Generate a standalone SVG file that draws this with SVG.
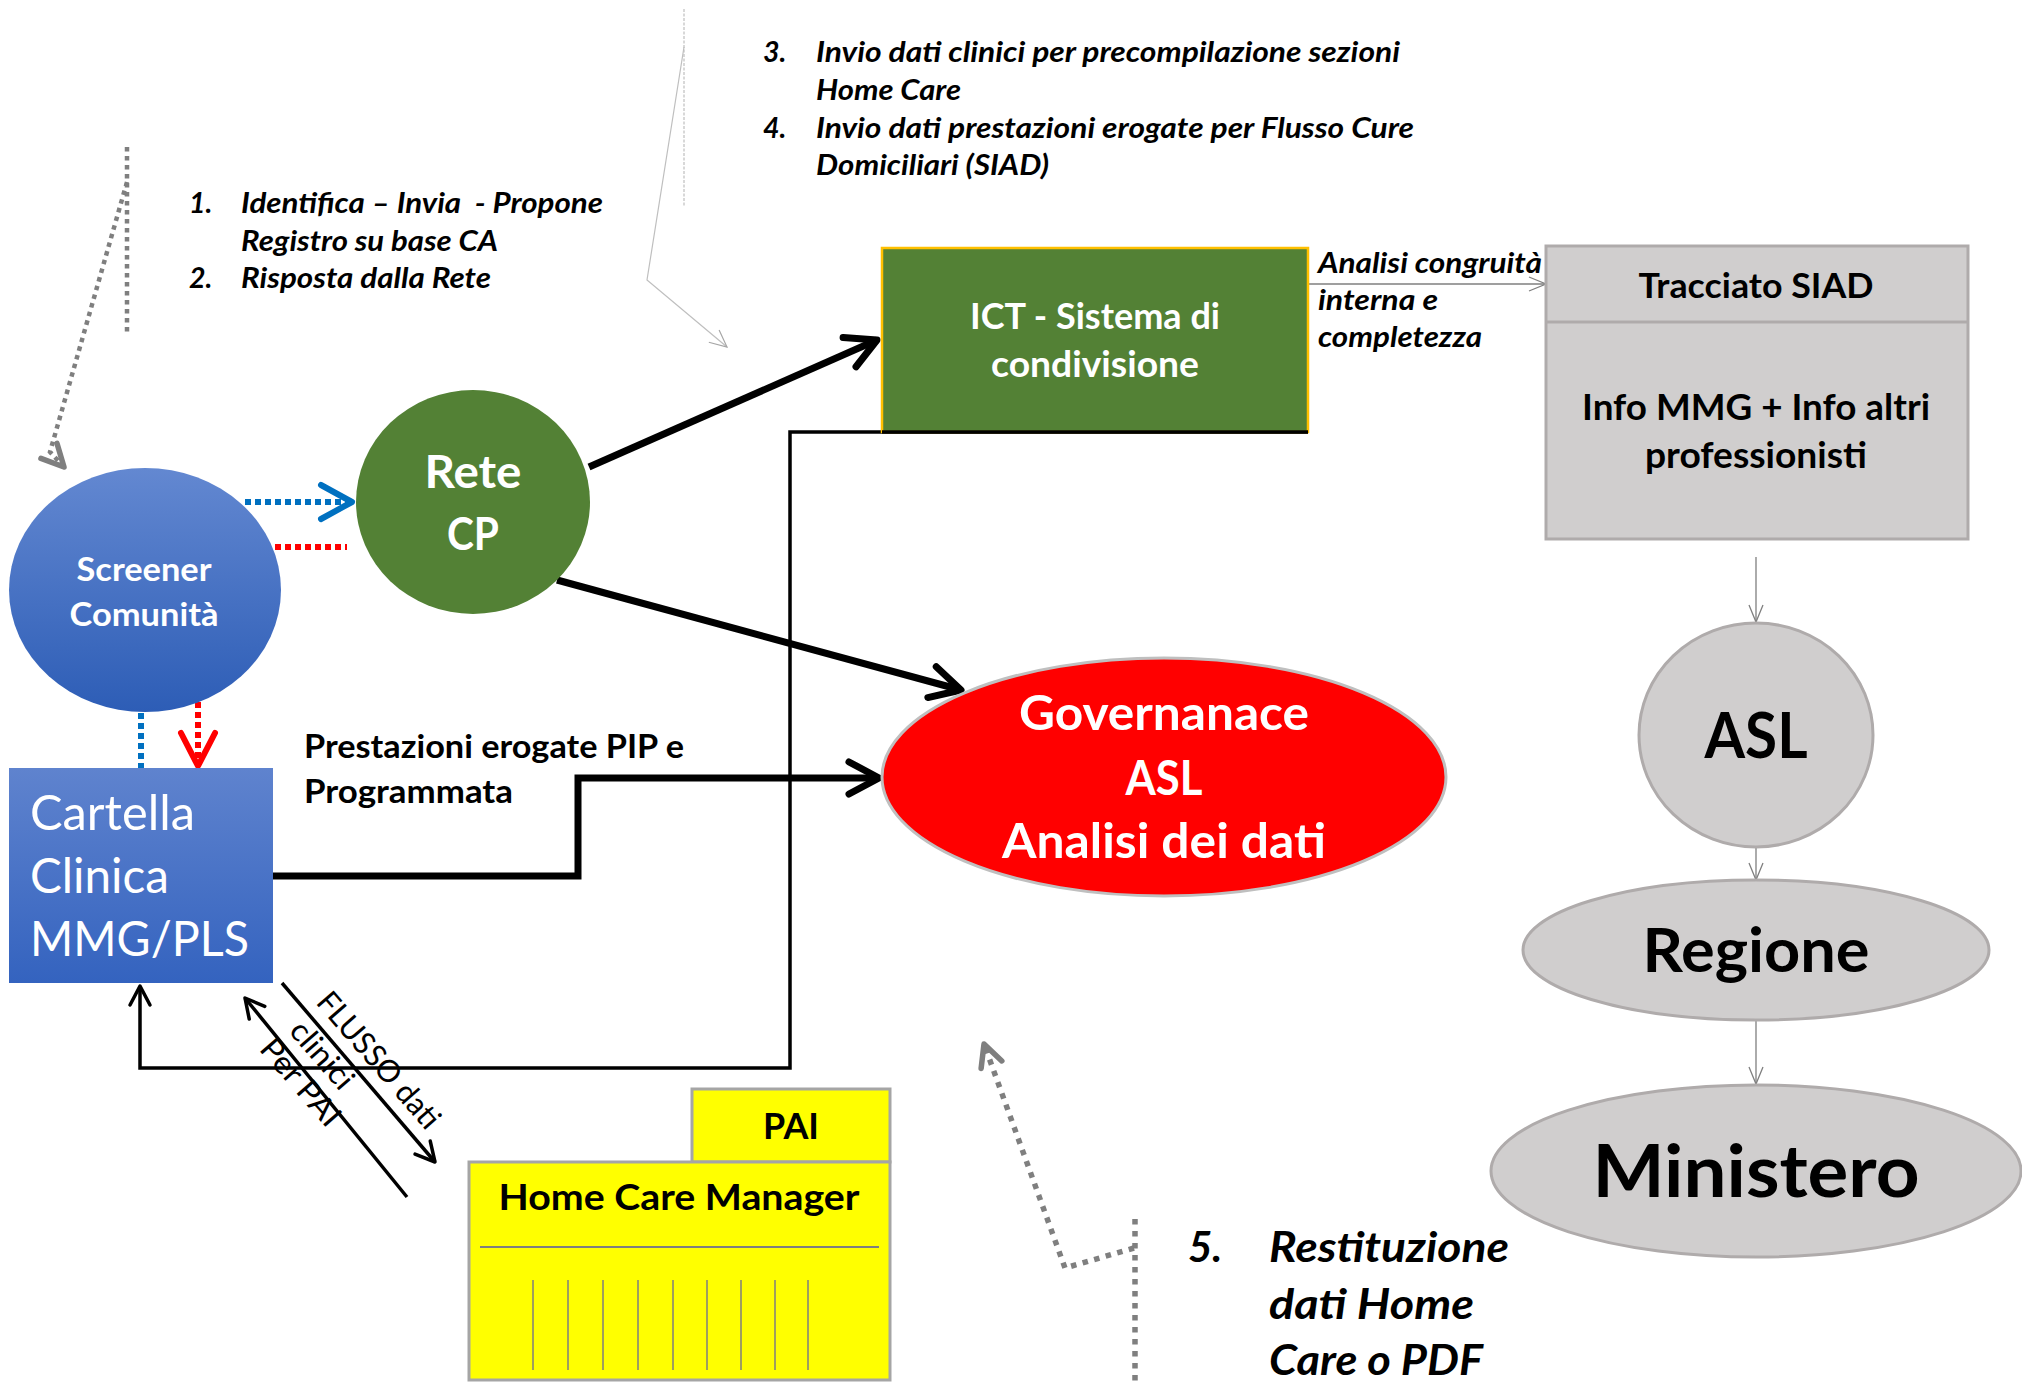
<svg xmlns="http://www.w3.org/2000/svg" width="2022" height="1382" viewBox="0 0 2022 1382">
  <defs>
    <style>
      text { font-family: Lato, "Liberation Sans", Arial, sans-serif; }
      .note { font-weight: bold; font-style: italic; fill: #000; font-size: 28.5px; white-space: pre; }
      .note5 { font-weight: bold; font-style: italic; fill: #000; font-size: 42px; }
      .wt { fill: #fff; font-weight: bold; text-anchor: middle; }
      .bk { fill: #000; font-weight: bold; text-anchor: middle; }
      .flow { fill: #000; font-size: 31px; text-anchor: middle; }
      .grey { fill: #D0CECE; stroke: #AFABAB; stroke-width: 3; }
      .thick { fill: none; stroke: #000; stroke-width: 7; stroke-linejoin: miter; }
      .thin { fill: none; stroke: #000; stroke-width: 3.5; }
      .hair { fill: none; stroke: #7F7F7F; stroke-width: 1.3; }
      .dotgrey { fill: none; stroke: #7F7F7F; stroke-width: 4.5; stroke-dasharray: 4.5 4.5; }
      .dotgrey2 { fill: none; stroke: #7F7F7F; stroke-width: 5.5; stroke-dasharray: 5.5 6.5; }
      .dotblue { fill: none; stroke: #0070C0; stroke-width: 6; stroke-dasharray: 6 4; }
      .dotred { fill: none; stroke: #FF0000; stroke-width: 6; stroke-dasharray: 6 4; }
      .faint { fill: none; stroke: #BFBFBF; stroke-width: 1.2; }
    </style>
    <linearGradient id="blueGrad" x1="0" y1="0" x2="0" y2="1">
      <stop offset="0" stop-color="#6388D1"/>
      <stop offset="1" stop-color="#2D5DB6"/>
    </linearGradient>
    <linearGradient id="blueGradBox" x1="0" y1="0" x2="0" y2="1">
      <stop offset="0" stop-color="#5F83CE"/>
      <stop offset="1" stop-color="#3463BF"/>
    </linearGradient>
    <marker id="ahBlack" markerUnits="userSpaceOnUse" markerWidth="1" markerHeight="1" refX="0" refY="0" orient="auto" overflow="visible">
      <path d="M-30,-16 L0,0 L-30,16" fill="none" stroke="#000" stroke-width="7" stroke-linecap="round" stroke-linejoin="round"/>
    </marker>
    <marker id="ahSmall" markerUnits="userSpaceOnUse" markerWidth="1" markerHeight="1" refX="0" refY="0" orient="auto" overflow="visible">
      <path d="M-19,-10 L0,0 L-19,10" fill="none" stroke="#000" stroke-width="3.5" stroke-linecap="round" stroke-linejoin="round"/>
    </marker>
    <marker id="ahBlue" markerUnits="userSpaceOnUse" markerWidth="1" markerHeight="1" refX="0" refY="0" orient="auto" overflow="visible">
      <path d="M-31,-17 L0,0 L-31,17" fill="none" stroke="#0070C0" stroke-width="6" stroke-linecap="round" stroke-linejoin="round"/>
    </marker>
    <marker id="ahRed" markerUnits="userSpaceOnUse" markerWidth="1" markerHeight="1" refX="0" refY="0" orient="auto" overflow="visible">
      <path d="M-33,-17 L0,0 L-33,17" fill="none" stroke="#FF0000" stroke-width="6" stroke-linecap="round" stroke-linejoin="round"/>
    </marker>
    <marker id="ahGrey" markerUnits="userSpaceOnUse" markerWidth="1" markerHeight="1" refX="0" refY="0" orient="auto" overflow="visible">
      <path d="M-22,-11 L0,0 L-22,11" fill="none" stroke="#7F7F7F" stroke-width="5.5" stroke-linecap="round" stroke-linejoin="round"/>
    </marker>
    <marker id="ahHair" markerUnits="userSpaceOnUse" markerWidth="1" markerHeight="1" refX="0" refY="0" orient="auto" overflow="visible">
      <path d="M-17,-7 L0,0 L-17,7" fill="none" stroke="#7F7F7F" stroke-width="1.3"/>
    </marker>
    <marker id="ahFaint" markerUnits="userSpaceOnUse" markerWidth="1" markerHeight="1" refX="0" refY="0" orient="auto" overflow="visible">
      <path d="M-17,-8 L0,0 L-17,8" fill="none" stroke="#A6A6A6" stroke-width="1.2"/>
    </marker>
  </defs>

  <rect width="2022" height="1382" fill="#fff"/>

  <!-- free-standing notes -->
  <g id="notes-1-2">
    <text class="note" x="189" y="213">1.</text>
    <text class="note" x="241" y="213" textLength="362" lengthAdjust="spacingAndGlyphs">Identifica – Invia  - Propone</text>
    <text class="note" x="241" y="251" textLength="257" lengthAdjust="spacingAndGlyphs">Registro su base CA</text>
    <text class="note" x="189" y="288">2.</text>
    <text class="note" x="241" y="288" textLength="250" lengthAdjust="spacingAndGlyphs">Risposta dalla Rete</text>
  </g>
  <g id="notes-3-4">
    <text class="note" x="763" y="62">3.</text>
    <text class="note" x="816" y="62" textLength="584" lengthAdjust="spacingAndGlyphs">Invio dati clinici per precompilazione sezioni</text>
    <text class="note" x="816" y="100" textLength="145" lengthAdjust="spacingAndGlyphs">Home Care</text>
    <text class="note" x="763" y="138">4.</text>
    <text class="note" x="816" y="138" textLength="598" lengthAdjust="spacingAndGlyphs">Invio dati prestazioni erogate per Flusso Cure</text>
    <text class="note" x="816" y="175" textLength="233" lengthAdjust="spacingAndGlyphs">Domiciliari (SIAD)</text>
  </g>
  <g id="note-analisi">
    <text class="note" x="1318" y="273" font-size="29" textLength="224" lengthAdjust="spacingAndGlyphs">Analisi congruità</text>
    <text class="note" x="1318" y="310" font-size="29" textLength="120" lengthAdjust="spacingAndGlyphs">interna e</text>
    <text class="note" x="1318" y="347" font-size="29" textLength="164" lengthAdjust="spacingAndGlyphs">completezza</text>
  </g>
  <g id="note-5">
    <text class="note5" x="1188" y="1262">5.</text>
    <text class="note5" x="1269" y="1262" textLength="240" lengthAdjust="spacingAndGlyphs">Restituzione</text>
    <text class="note5" x="1269" y="1319" textLength="205" lengthAdjust="spacingAndGlyphs">dati Home</text>
    <text class="note5" x="1269" y="1375" textLength="214" lengthAdjust="spacingAndGlyphs">Care o PDF</text>
  </g>

  <!-- connectors -->
  <g id="connectors">
    <!-- faint pointer towards the ICT box -->
    <line class="faint" x1="684" y1="9" x2="684" y2="207" stroke-dasharray="3 1.5"/>
    <path class="faint" d="M684,47 L647,280 L727,347" marker-end="url(#ahFaint)"/>
    <!-- grey dotted pointers -->
    <line class="dotgrey" x1="127" y1="147" x2="127" y2="333"/>
    <path class="dotgrey" d="M127,182 L50,452 L64,467" marker-end="url(#ahGrey)"/>
    <line class="dotgrey2" x1="1135" y1="1219" x2="1135" y2="1382"/>
    <path class="dotgrey2" d="M1134,1248 L1065,1268 L984,1044" marker-end="url(#ahGrey)"/>
    <!-- Screener <-> Rete CP -->
    <line class="dotblue" x1="245" y1="502" x2="352" y2="502" marker-end="url(#ahBlue)"/>
    <line class="dotred" x1="275" y1="547" x2="347" y2="547"/>
    <!-- Screener <-> Cartella -->
    <line class="dotblue" x1="141" y1="713" x2="141" y2="768"/>
    <line class="dotred" x1="198" y1="702" x2="198" y2="766" stroke-dasharray="8 4" marker-end="url(#ahRed)"/>
    <!-- thick black flows -->
    <line class="thick" x1="589" y1="467" x2="877" y2="340" marker-end="url(#ahBlack)"/>
    <line class="thick" x1="557" y1="580" x2="961" y2="690" marker-end="url(#ahBlack)"/>
    <path class="thick" d="M273,876 H578 V778 H879" marker-end="url(#ahBlack)"/>
    <!-- return from ICT to Cartella -->
    <path class="thin" d="M1308,432 H790 V1068 H140 V986" marker-end="url(#ahSmall)"/>
    <!-- FLUSSO dati clinici / Per PAI -->
    <line class="thin" x1="282" y1="983" x2="435" y2="1162" marker-end="url(#ahSmall)"/>
    <line class="thin" x1="407" y1="1197" x2="245" y2="998" marker-end="url(#ahSmall)"/>
    <!-- SIAD chain -->
    <line class="hair" x1="1308" y1="284" x2="1546" y2="284" marker-end="url(#ahHair)"/>
    <line class="hair" x1="1756" y1="557" x2="1756" y2="622" marker-end="url(#ahHair)"/>
    <line class="hair" x1="1756" y1="847" x2="1756" y2="880" marker-end="url(#ahHair)"/>
    <line class="hair" x1="1756" y1="1020" x2="1756" y2="1084" marker-end="url(#ahHair)"/>
  </g>

  <!-- flow labels -->
  <g id="flow-labels">
    <text class="bk" x="304" y="758" style="text-anchor:start" font-size="33" textLength="380" lengthAdjust="spacingAndGlyphs">Prestazioni erogate PIP e</text>
    <text class="bk" x="304" y="803" style="text-anchor:start" font-size="33" textLength="209" lengthAdjust="spacingAndGlyphs">Programmata</text>
    <text class="flow" transform="translate(379,1060) rotate(49)" y="11" textLength="170" lengthAdjust="spacingAndGlyphs">FLUSSO dati</text>
    <text class="flow" transform="translate(321,1056) rotate(49)" y="9" textLength="80" lengthAdjust="spacingAndGlyphs">clinici</text>
    <text class="flow" transform="translate(301,1082) rotate(49)" y="11" textLength="105" lengthAdjust="spacingAndGlyphs">Per PAI</text>
  </g>

  <!-- nodes -->
  <g id="node-screener">
    <ellipse cx="145" cy="590" rx="136" ry="122" fill="url(#blueGrad)"/>
    <text class="wt" x="144" y="581" font-size="33" textLength="135" lengthAdjust="spacingAndGlyphs">Screener</text>
    <text class="wt" x="144" y="626" font-size="33" textLength="149" lengthAdjust="spacingAndGlyphs">Comunità</text>
  </g>
  <g id="node-rete">
    <ellipse cx="473" cy="502" rx="117" ry="112" fill="#538135"/>
    <text class="wt" x="473" y="488" font-size="46.5" textLength="97" lengthAdjust="spacingAndGlyphs">Rete</text>
    <text class="wt" x="473" y="550" font-size="46.5" textLength="52" lengthAdjust="spacingAndGlyphs">CP</text>
  </g>
  <g id="node-cartella">
    <rect x="9" y="768" width="264" height="215" fill="url(#blueGradBox)"/>
    <text x="30" y="830" fill="#fff" font-size="47.5" textLength="165" lengthAdjust="spacingAndGlyphs">Cartella</text>
    <text x="30" y="893" fill="#fff" font-size="47.5" textLength="139" lengthAdjust="spacingAndGlyphs">Clinica</text>
    <text x="30" y="956" fill="#fff" font-size="47.5" textLength="219" lengthAdjust="spacingAndGlyphs">MMG/PLS</text>
  </g>
  <g id="node-ict">
    <rect x="882" y="248" width="426" height="184" fill="#538135" stroke="#FFC000" stroke-width="2.5"/>
    <line x1="882" y1="432" x2="1308" y2="432" stroke="#000" stroke-width="3.5"/>
    <text class="wt" x="1095" y="329" font-size="35.5" textLength="250" lengthAdjust="spacingAndGlyphs">ICT - Sistema di</text>
    <text class="wt" x="1095" y="377" font-size="35.5" textLength="208" lengthAdjust="spacingAndGlyphs">condivisione</text>
  </g>
  <g id="node-governance">
    <ellipse cx="1164" cy="777" rx="282" ry="119" fill="#FF0000" stroke="#BFBFBF" stroke-width="3"/>
    <text class="wt" x="1164" y="730" font-size="47.5" textLength="290" lengthAdjust="spacingAndGlyphs">Governanace</text>
    <text class="wt" x="1164" y="795" font-size="47.5" textLength="77" lengthAdjust="spacingAndGlyphs">ASL</text>
    <text class="wt" x="1164" y="858" font-size="47.5" textLength="324" lengthAdjust="spacingAndGlyphs">Analisi dei dati</text>
  </g>
  <g id="node-tracciato">
    <rect class="grey" x="1546" y="246" width="422" height="293"/>
    <line x1="1546" y1="322" x2="1968" y2="322" stroke="#AFABAB" stroke-width="3"/>
    <text class="bk" x="1756" y="298" font-size="35" textLength="235" lengthAdjust="spacingAndGlyphs">Tracciato SIAD</text>
    <text class="bk" x="1756" y="420" font-size="35.5" textLength="348" lengthAdjust="spacingAndGlyphs">Info MMG + Info altri</text>
    <text class="bk" x="1756" y="468" font-size="35.5" textLength="222" lengthAdjust="spacingAndGlyphs">professionisti</text>
  </g>
  <g id="node-asl">
    <ellipse class="grey" cx="1756" cy="735" rx="117" ry="112"/>
    <text class="bk" x="1756" y="758" font-size="64" textLength="103" lengthAdjust="spacingAndGlyphs">ASL</text>
  </g>
  <g id="node-regione">
    <ellipse class="grey" cx="1756" cy="950" rx="233" ry="70"/>
    <text class="bk" x="1756" y="972" font-size="61" textLength="227" lengthAdjust="spacingAndGlyphs">Regione</text>
  </g>
  <g id="node-ministero">
    <ellipse class="grey" cx="1756" cy="1171" rx="265" ry="86"/>
    <text class="bk" x="1756" y="1197" font-size="73" textLength="327" lengthAdjust="spacingAndGlyphs">Ministero</text>
  </g>
  <g id="node-homecare">
    <rect x="692" y="1089" width="198" height="73" fill="#FFFF00" stroke="#A5A5A5" stroke-width="3"/>
    <rect x="469" y="1162" width="421" height="218" fill="#FFFF00" stroke="#A5A5A5" stroke-width="3"/>
    <text class="bk" x="791" y="1139" font-size="36" textLength="56" lengthAdjust="spacingAndGlyphs">PAI</text>
    <text class="bk" x="679" y="1210" font-size="36" textLength="361" lengthAdjust="spacingAndGlyphs">Home Care Manager</text>
    <line x1="480" y1="1247" x2="879" y2="1247" stroke="#7F7F7F" stroke-width="2"/>
    <g stroke="#7F7F7F" stroke-width="1.5">
      <line x1="533" y1="1280" x2="533" y2="1370"/>
      <line x1="568" y1="1280" x2="568" y2="1370"/>
      <line x1="603" y1="1280" x2="603" y2="1370"/>
      <line x1="638" y1="1280" x2="638" y2="1370"/>
      <line x1="673" y1="1280" x2="673" y2="1370"/>
      <line x1="707" y1="1280" x2="707" y2="1370"/>
      <line x1="741" y1="1280" x2="741" y2="1370"/>
      <line x1="775" y1="1280" x2="775" y2="1370"/>
      <line x1="808" y1="1280" x2="808" y2="1370"/>
    </g>
  </g>
</svg>
